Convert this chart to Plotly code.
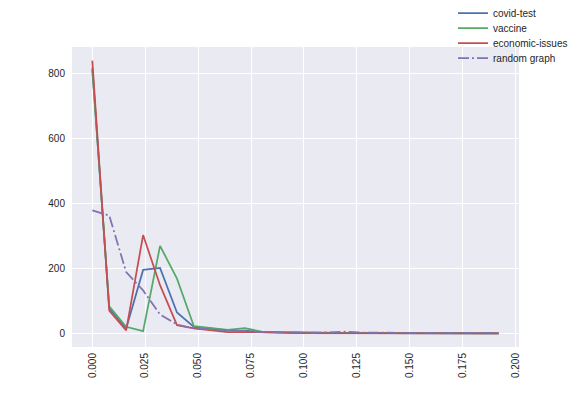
import plotly.graph_objects as go

# bin positions (x) shared by all series
x_vals = [0.000, 0.008, 0.016, 0.024, 0.032, 0.040, 0.048, 0.056, 0.064, 0.072,
          0.080, 0.088, 0.096, 0.104, 0.112, 0.120, 0.128, 0.136, 0.144, 0.152,
          0.160, 0.168, 0.176, 0.184, 0.192]

covid_test = [815, 77, 15, 195, 201, 64, 20, 15, 9, 8, 4, 3, 2, 2, 1, 1, 1, 1, 1, 1, 0, 0, 0, 0, 0]
vaccine = [810, 83, 20, 7, 269, 168, 22, 17, 11, 16, 5, 4, 3, 2, 2, 1, 1, 1, 1, 1, 1, 0, 0, 0, 0]
economic_issues = [838, 70, 9, 302, 148, 25, 15, 10, 4, 4, 2, 2, 1, 1, 1, 2, 1, 1, 1, 0, 0, 0, 0, 0, 0]
random_graph = [378, 362, 188, 132, 58, 27, 15, 12, 8, 5, 4, 3, 2, 2, 3, 5, 2, 2, 1, 1, 1, 1, 1, 1, 1]

x_ticks = [0.000, 0.025, 0.050, 0.075, 0.100, 0.125, 0.150, 0.175, 0.200]
y_ticks = [0, 200, 400, 600, 800]

series = [
    ("covid-test", covid_test, "#4C72B0", "solid"),
    ("vaccine", vaccine, "#55A868", "solid"),
    ("economic-issues", economic_issues, "#C44E52", "solid"),
    ("random graph", random_graph, "#8172B2", "11px,3px,2px,3px"),
]

# the page body has an 8px margin, so the figure is shrunk and shifted by it
off = 8
W, H = 576 - off, 396 - off
left, right, top, bottom = 72 - off, 519 - off, 47 - off, 347 - off
pw, ph = right - left, bottom - top

fig = go.Figure()
legends = {}
for i, (name, ys, color, dash) in enumerate(series):
    key = "legend" if i == 0 else f"legend{i + 1}"
    fig.add_trace(go.Scatter(
        x=x_vals, y=ys, mode="lines", name=name, legend=key,
        line=dict(color=color, width=1.75, dash=dash),
    ))
    row_y = 13 + 15 * i - off
    legends[key] = dict(
        x=(453 - off - left) / pw, xanchor="left",
        y=(bottom - row_y) / ph, yanchor="middle",
        bgcolor="rgba(0,0,0,0)", font=dict(size=10, color="#262626"),
        itemwidth=30,
    )

fig.update_layout(
    width=W, height=H,
    margin=dict(l=left, r=W - right, t=top, b=H - bottom, autoexpand=False),
    paper_bgcolor="white",
    plot_bgcolor="#EAEAF2",
    font=dict(family="Liberation Sans, Arial, sans-serif", size=10, color="#262626"),
    showlegend=True,
    **legends,
)
fig.update_xaxes(
    range=[-0.0096, 0.2016], tickvals=x_ticks, tickformat=".3f",
    tickangle=-90, showgrid=True, gridcolor="white", gridwidth=1,
    zeroline=False, showline=False, ticks="", ticklabelstandoff=3,
)
fig.update_yaxes(
    range=[-42, 880], tickvals=y_ticks,
    showgrid=True, gridcolor="white", gridwidth=1,
    zeroline=False, showline=False, ticks="", ticklabelstandoff=6,
)

fig.write_html("out.html")
